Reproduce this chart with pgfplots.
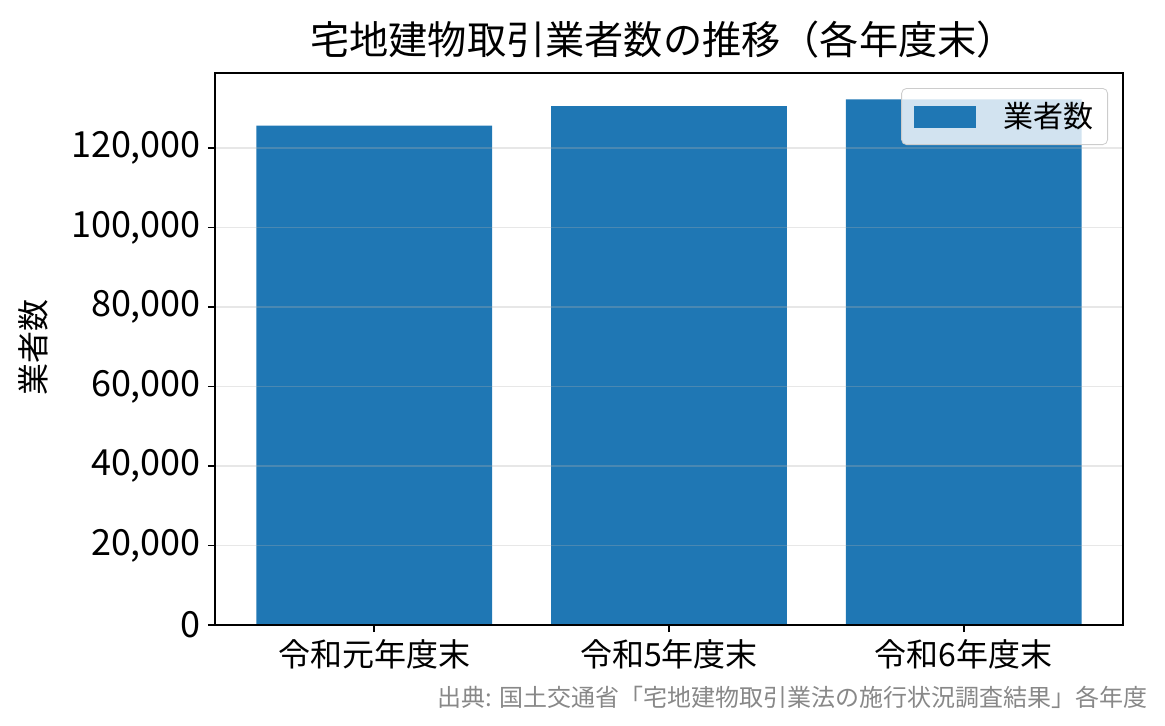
\documentclass[border=0pt]{standalone}
\usepackage{fontspec}
\setmainfont{Noto Sans CJK JP}
\usepackage{pgfplots}
\pgfplotsset{compat=1.18}

\definecolor{barblue}{HTML}{1F77B4}
\definecolor{gridgray}{HTML}{B0B0B0}
\definecolor{srcgray}{HTML}{888888}

\begin{document}
\begin{tikzpicture}
% 1 px of the reference = 0.5pt
\useasboundingbox (-107.5pt,-50pt) rectangle (475pt,312.5pt);
\begin{axis}[
    scale only axis,
    width=454pt, height=276pt,
    at={(0pt,0pt)}, anchor=south west,
    ybar, bar width=0.8,
    xmin=-0.54, xmax=2.54,
    ymin=0, ymax=138906,
    xtick={0,1,2},
    xticklabels={令和元年度末,令和5年度末,令和6年度末},
    ytick={0,20000,40000,60000,80000,100000,120000},
    scaled y ticks=false,
    /pgf/number format/.cd, fixed, 1000 sep={,}, assume math mode=true,
    /pgfplots/.cd,
    xticklabel style={font=\fontsize{16pt}{18pt}\selectfont, black},
    yticklabel style={font=\fontsize{18pt}{20pt}\selectfont, black},
    tick align=outside,
    major tick length=3.5pt,
    xtick pos=bottom, ytick pos=left,
    tick style={black, line width=0.8pt},
    axis line style={black, line width=0.9pt},
    ymajorgrids,
    major grid style={draw=gridgray, opacity=0.3, line width=0.8pt},
    axis on top,
    legend style={at={(1,1)}, anchor=north east, xshift=-7.5pt, yshift=-7.5pt,
        draw=black!20, fill=white, fill opacity=0.8, text opacity=1,
        rounded corners=2.5pt, font=\fontsize{15pt}{17pt}\selectfont,
        inner xsep=5pt, inner ysep=5pt},
    legend image code/.code={
        \path (-1pt,0pt) (43pt,0pt);
        \fill[barblue, fill opacity=1, sharp corners] (0pt,-5.5pt) rectangle (31pt,5.5pt);},
    legend cell align=left,
]
\addplot[fill=barblue, draw=none] coordinates {(0,125638) (1,130583) (2,132291)};
\addlegendentry{業者数}
\end{axis}
\node[rotate=90, font=\fontsize{16pt}{18pt}\selectfont] at (-90.75pt,138.75pt) {業者数};
\node[font=\fontsize{19.6pt}{22pt}\selectfont] at (224pt,292.5pt) {宅地建物取引業者数の推移（各年度末）};
\node[anchor=east, font=\fontsize{12pt}{14pt}\selectfont, text=srcgray, inner sep=0pt] at (466.5pt,-36pt) {出典: 国土交通省「宅地建物取引業法の施行状況調査結果」各年度};
\end{tikzpicture}
\end{document}
